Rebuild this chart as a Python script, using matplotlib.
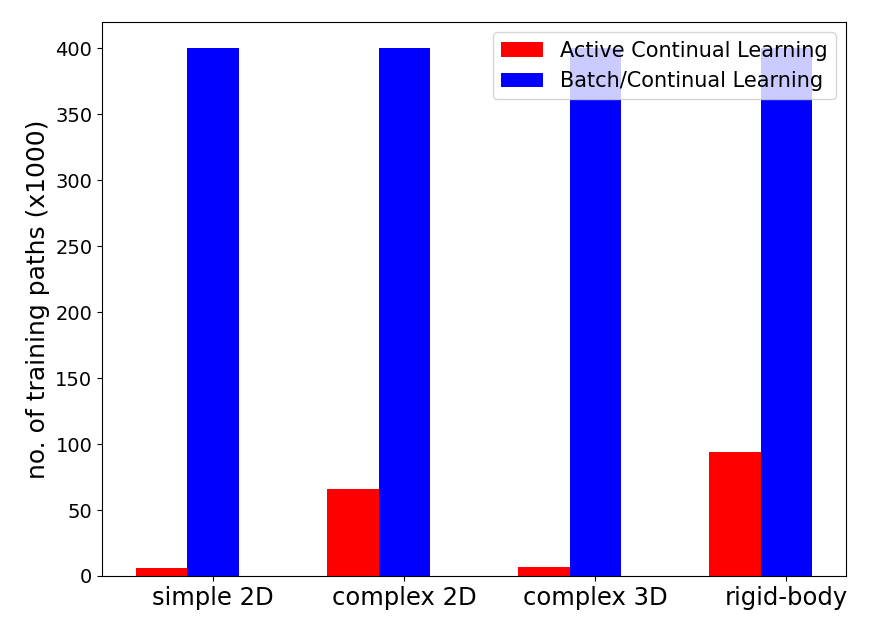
import numpy as np
import matplotlib
matplotlib.use('Agg')
import matplotlib.pyplot as plt

# data
categories = ['simple 2D', 'complex 2D', 'complex 3D', 'rigid-body']
active_cl = [6, 66, 7, 94]
batch_cl = [400, 400, 400, 400]

fig = plt.figure(figsize=(8.69, 6.31), dpi=100)
ax = fig.add_axes([0.1174, 0.0872, 0.8562, 0.878])

x = np.arange(len(categories))
width = 0.27
ax.bar(x, active_cl, width, color='red', label='Active Continual Learning')
ax.bar(x + width, batch_cl, width, color='blue', label='Batch/Continual Learning')

ax.set_xticks(x + width)
ax.set_xticklabels(categories, fontsize=17.5)
ax.tick_params(axis='y', labelsize=14)
ax.set_ylabel('no. of training paths (x1000)', fontsize=18)
ax.legend(loc='upper right', fontsize=15)

fig.savefig('out.png', dpi=100)
